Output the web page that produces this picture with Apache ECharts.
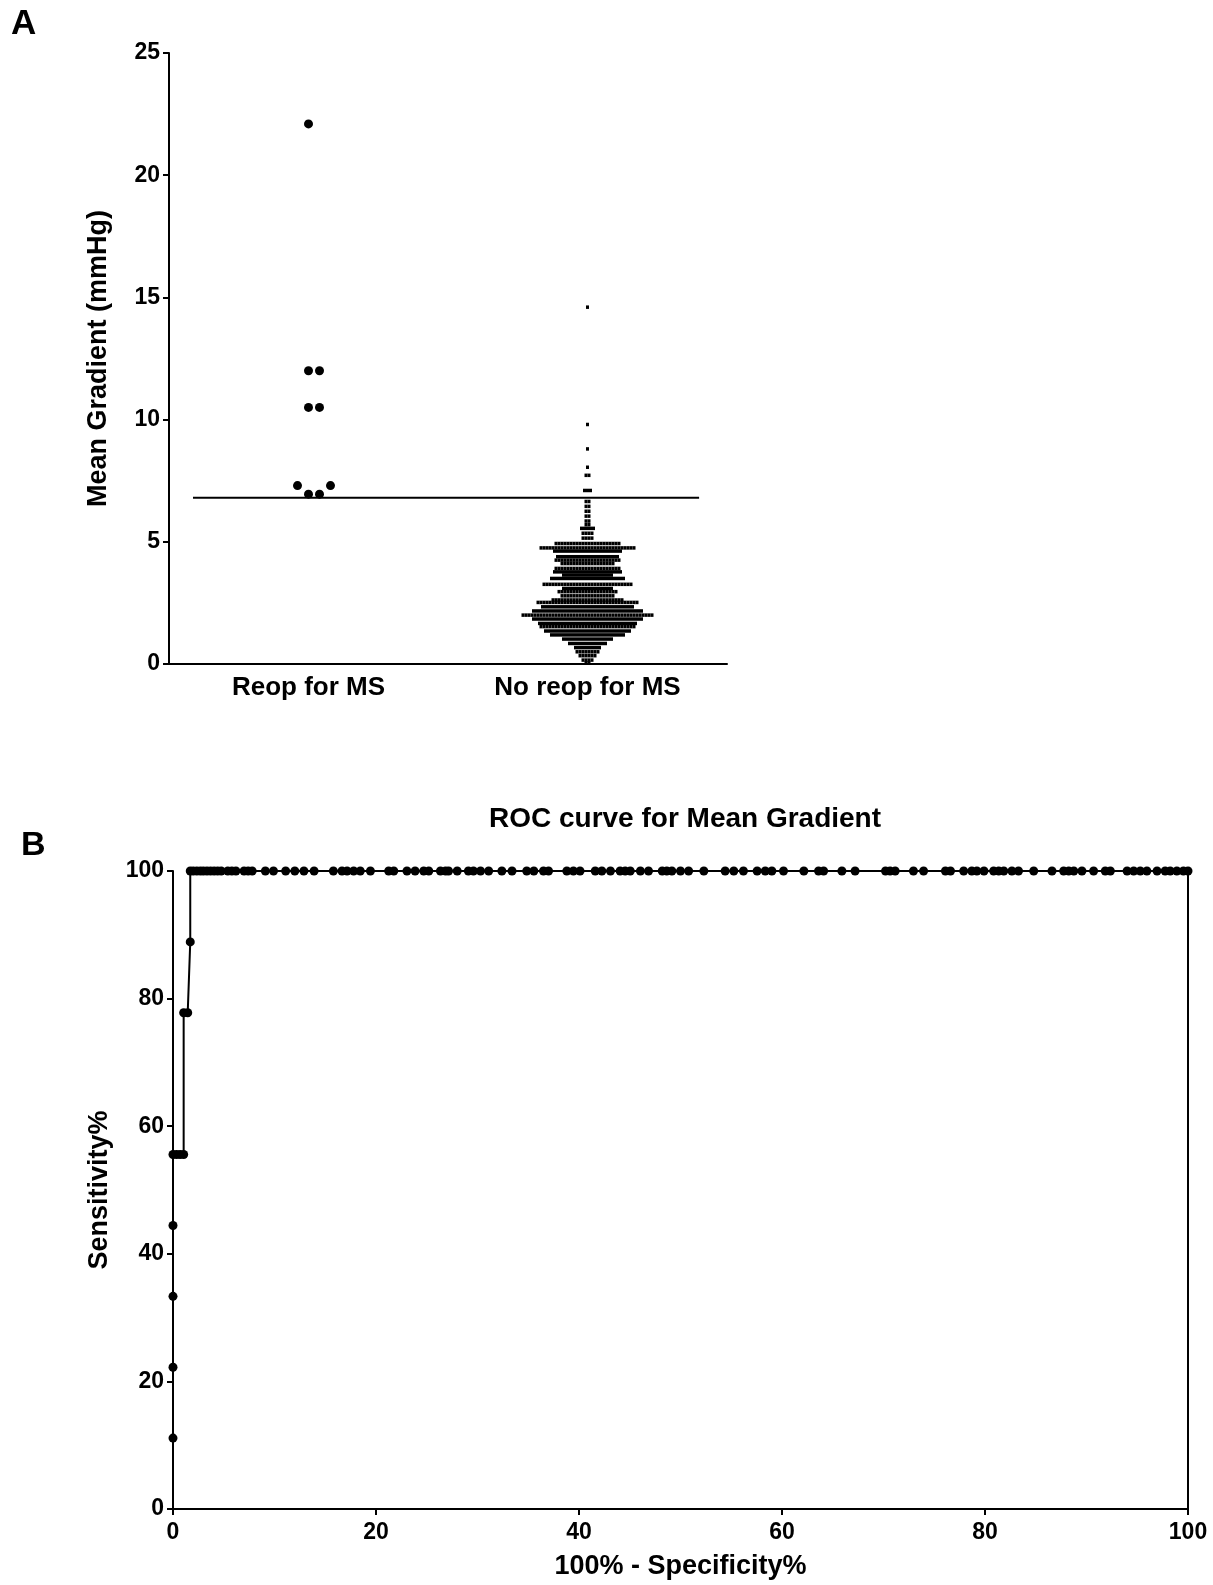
<!doctype html>
<html>
<head>
<meta charset="utf-8">
<title>Mean Gradient / ROC</title>
<script src="https://cdn.jsdelivr.net/npm/echarts@6/dist/echarts.min.js"></script>
<style>
    body{margin:0;background:#fff;}
    #main{width:1213px;height:1585px;}
</style>
</head>
<body>
<div id="main"></div>
<script>
    // panel A: mean gradient per group
    var groups = ['Reop for MS', 'No reop for MS'];
    var reopValues = [22.1, 12.0, 12.0, 10.5, 10.5, 7.3, 7.3, 6.95, 6.95];
    // no reop group, one row per value: value and number of patients in that row
    var noReopRowValues = [14.6, 9.8, 8.8, 8.05, 7.72, 7.1, 6.65, 6.45, 6.25, 6.05, 5.85, 5.7, 5.55, 5.35, 5.15,
        4.93, 4.75, 4.62, 4.39, 4.25, 4.11, 3.91, 3.77, 3.64, 3.5, 3.26, 3.09, 2.96, 2.79, 2.62, 2.52,
        2.34, 2.17, 2.0, 1.84, 1.66, 1.53, 1.35, 1.19, 1.02, 0.84, 0.67, 0.5, 0.34, 0.16, 0.05];
    var noReopRowCounts = [1, 1, 1, 1, 2, 3, 2, 2, 2, 2, 2, 2, 5, 4, 4,
        22, 32, 23, 21, 22, 18, 22, 23, 17, 25, 30, 17, 20, 18, 24, 34,
        31, 37, 44, 37, 33, 32, 29, 25, 17, 13, 9, 8, 6, 4, 2];
    var cutoff = 6.8;
    var yTicksA = [0, 25, 5];

    // panel B: ROC curve
    var rocX = [0, 0, 0, 0, 0, 0.35, 0.7, 1.05, 1.05, 1.45, 1.7, 1.7,
        2.0, 2.35, 2.7, 3.0, 3.35, 3.7, 4.05, 4.4, 4.75, 5.4, 5.8, 6.2, 7.0, 7.4, 7.8,
        9.1, 9.9, 11.1, 12.0, 12.9, 13.9, 15.8, 16.65, 17.15, 17.8, 18.45, 19.45, 21.25, 21.75,
        23.05, 23.85, 24.7, 25.2, 26.35, 26.85, 27.15, 28.0, 29.1, 29.6, 30.3, 31.1, 32.4, 33.4,
        34.85, 35.55, 36.5, 37.0, 38.8, 39.45, 40.1, 41.6, 42.25, 43.1, 44.05, 44.55, 45.05, 46.05,
        46.85, 48.2, 48.65, 49.15, 50.0, 50.8, 52.3, 54.4, 55.25, 56.2, 57.55, 58.35, 59.0, 60.15,
        62.15, 63.6, 64.1, 65.9, 67.2, 70.2, 70.65, 71.15, 72.95, 73.95, 76.1, 76.6, 77.9, 78.7,
        79.2, 79.9, 80.85, 81.35, 81.85, 82.65, 83.3, 84.8, 86.6, 87.75, 88.25, 88.75, 89.55,
        90.7, 91.85, 92.35, 94.0, 94.65, 95.3, 95.95, 96.95, 97.75, 98.25, 98.9, 99.55, 100];
    var rocY = [11.11, 22.22, 33.33, 44.44, 55.56, 55.56, 55.56, 55.56, 77.78, 77.78, 88.89, 100];
    while (rocY.length < rocX.length) rocY.push(100);

    var font = 'Liberation Sans';
    var black = '#000';

    // pixel size of panel A plot area, used to lay the dots side by side
    var gridA = {left: 169, top: 53, width: 558, height: 611};
    var gridB = {left: 173, top: 871, width: 1015, height: 638};
    var pxPerX = gridA.width / 2;
    var pxPerY = gridA.height / (yTicksA[1] - yTicksA[0]);

    // greedy swarm: each dot goes to the nearest free slot left/right of centre
    function swarm(values, centre, diam) {
        var placed = [], out = [];
        var order = values.map(function (v, i) { return i; })
            .sort(function (a, b) { return values[a] - values[b]; });
        order.forEach(function (i) {
            var y = values[i] * pxPerY;
            for (var k = 0; k < 200; k++) {
                var off = (k === 0 ? 0 : (k % 2 === 1 ? (k + 1) / 2 : -k / 2)) * diam;
                var free = placed.every(function (p) {
                    var dx = p[0] - off, dy = p[1] - y;
                    return dx * dx + dy * dy >= diam * diam - 0.01;
                });
                if (free) {
                    placed.push([off, y]);
                    out.push([centre + off / pxPerX, values[i]]);
                    break;
                }
            }
        });
        return out;
    }

    // rows: dots of the same value set edge to edge around the centre
    function rows(vals, counts, centre, step) {
        var out = [];
        for (var r = 0; r < vals.length; r++) {
            var n = counts[r];
            for (var j = 0; j < n; j++) {
                out.push([centre + (j - (n - 1) / 2) * step / pxPerX, vals[r]]);
            }
        }
        return out;
    }

    var reopPts = swarm(reopValues, 0.5, 11);
    var noReopPts = rows(noReopRowValues, noReopRowCounts, 1.5, 3);

    var rocPts = rocX.map(function (x, i) { return [x, rocY[i]]; });
    var last = rocPts[rocPts.length - 1];

    var axisLine = {lineStyle: {color: black, width: 2}};
    var axisTick = {length: 6, lineStyle: {color: black, width: 2}};
    var tickLabel = {color: black, fontFamily: font, fontWeight: 'bold', fontSize: 23};
    var nameStyle = {color: black, fontFamily: font, fontWeight: 'bold', fontSize: 27};

    var myChart = echarts.init(document.getElementById('main'));
    var option = {
        animation: false,
        backgroundColor: '#fff',
        title: [
            {text: 'A', left: 6, top: 2, textStyle: {color: black, fontFamily: font, fontWeight: 'bold', fontSize: 35}},
            {text: 'B', left: 16, top: 824, textStyle: {color: black, fontFamily: font, fontWeight: 'bold', fontSize: 34}},
            {text: 'ROC curve for Mean Gradient', left: 680, top: 800, textAlign: 'center',
                textStyle: {color: black, fontFamily: font, fontWeight: 'bold', fontSize: 28}}
        ],
        grid: [
            {left: gridA.left, top: gridA.top, width: gridA.width, height: gridA.height},
            {left: gridB.left, top: gridB.top, width: gridB.width, height: gridB.height}
        ],
        xAxis: [
            {
                type: 'category', gridIndex: 0, data: groups,
                axisLine: axisLine, axisTick: {alignWithLabel: true, length: 6, lineStyle: {color: black, width: 2}},
                axisLabel: {color: black, fontFamily: font, fontWeight: 'bold', fontSize: 26, margin: 11}
            },
            {type: 'value', gridIndex: 0, min: 0, max: 2, show: false},
            {
                type: 'value', gridIndex: 1, min: 0, max: 100, interval: 20,
                name: '100% - Specificity%', nameLocation: 'middle', nameGap: 44, nameTextStyle: nameStyle,
                axisLine: axisLine, axisTick: axisTick, splitLine: {show: false},
                axisLabel: Object.assign({margin: 12}, tickLabel)
            }
        ],
        yAxis: [
            {
                type: 'value', gridIndex: 0, min: yTicksA[0], max: yTicksA[1], interval: yTicksA[2],
                name: 'Mean Gradient (mmHg)', nameLocation: 'middle', nameGap: 57, nameTextStyle: nameStyle,
                axisLine: Object.assign({show: true}, axisLine), axisTick: Object.assign({show: true}, axisTick),
                splitLine: {show: false}, axisLabel: Object.assign({margin: 9}, tickLabel)
            },
            {
                type: 'value', gridIndex: 1, min: 0, max: 100, interval: 20,
                name: 'Sensitivity%', nameLocation: 'middle', nameGap: 60, nameTextStyle: nameStyle,
                axisLine: Object.assign({show: true}, axisLine), axisTick: Object.assign({show: true}, axisTick),
                splitLine: {show: false}, axisLabel: Object.assign({margin: 9}, tickLabel)
            }
        ],
        series: [
            {
                name: 'Reop for MS', type: 'scatter', xAxisIndex: 1, yAxisIndex: 0,
                data: reopPts, symbol: 'circle', symbolSize: 9, itemStyle: {color: black, opacity: 1}
            },
            {
                name: 'No reop for MS', type: 'scatter', xAxisIndex: 1, yAxisIndex: 0,
                data: noReopPts, symbol: 'rect', symbolSize: [3, 3.5], itemStyle: {color: black, opacity: 1}
            },
            {
                name: 'cutoff', type: 'line', xAxisIndex: 1, yAxisIndex: 0,
                data: [[0.086, cutoff], [1.9, cutoff]], symbol: 'none',
                lineStyle: {color: black, width: 2}
            },
            {
                name: 'ROC', type: 'line', xAxisIndex: 2, yAxisIndex: 1,
                data: rocPts, symbol: 'circle', symbolSize: 9, showAllSymbol: true,
                lineStyle: {color: black, width: 2}, itemStyle: {color: black, opacity: 1}
            },
            {
                name: 'ROC end', type: 'line', xAxisIndex: 2, yAxisIndex: 1,
                data: [last, [last[0], 0]], symbol: 'none',
                lineStyle: {color: black, width: 2}
            }
        ]
    };
    myChart.setOption(option);
</script>
</body>
</html>
